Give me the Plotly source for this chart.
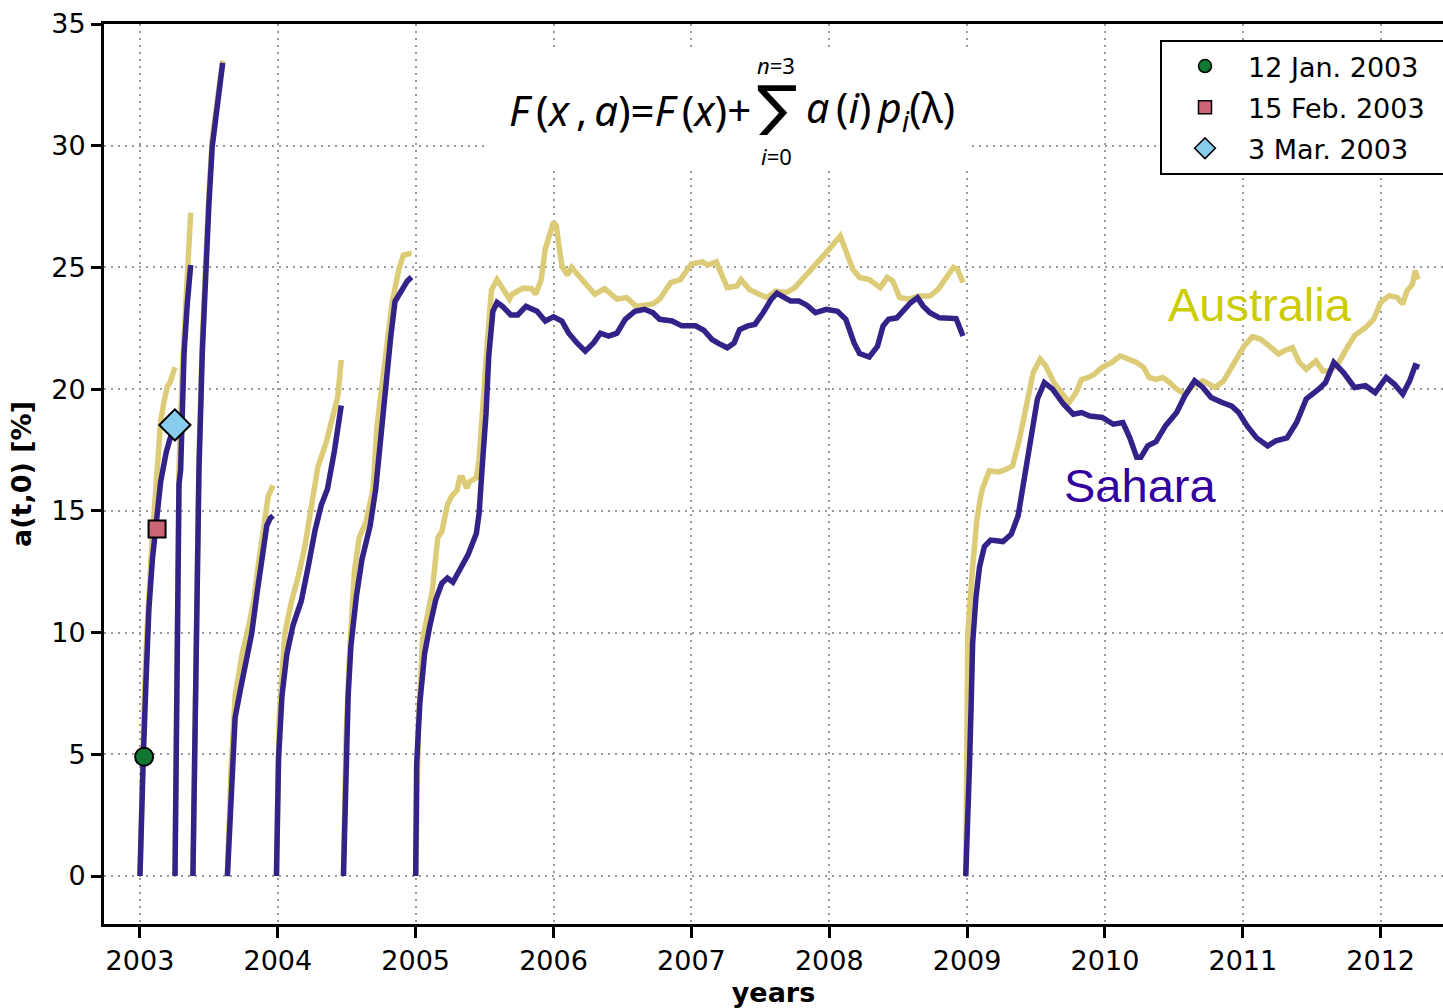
import plotly.graph_objects as go

# ---------------- data ----------------
# Sahara (dark blue) segments: time in years, value in %
SAH1_T = [2003.0, 2003.01, 2003.024, 2003.045, 2003.065, 2003.09, 2003.118, 2003.15, 2003.19, 2003.22, 2003.25]
SAH1_V = [0, 2.4, 4.9, 8.2, 11.0, 13.0, 14.3, 16.2, 17.4, 18.0, 18.6]
SAH2_T = [2003.254, 2003.266, 2003.276, 2003.283, 2003.295, 2003.32, 2003.343, 2003.368]
SAH2_V = [0, 5.2, 10.65, 16.1, 16.7, 21.5, 23.5, 25.1]
SAH3_T = [2003.384, 2003.397, 2003.41, 2003.42, 2003.428, 2003.452, 2003.476, 2003.5, 2003.524, 2003.549, 2003.573, 2003.60]
SAH3_V = [0, 5.2, 10.65, 16.1, 16.7, 21.5, 24.9, 27.6, 29.96, 31.06, 32.15, 33.4]
SAH4_T = [2003.634, 2003.66, 2003.69, 2003.73, 2003.77, 2003.81, 2003.85, 2003.885, 2003.92, 2003.945, 2003.965]
SAH4_V = [0, 3.6, 6.5, 7.7, 8.75, 9.95, 11.65, 13.0, 14.4, 14.7, 14.8]
SAH5_T = [2003.99, 2004.005, 2004.03, 2004.065, 2004.11, 2004.17, 2004.22, 2004.27, 2004.315, 2004.36, 2004.41, 2004.46]
SAH5_V = [0, 4.8, 7.4, 9.1, 10.3, 11.3, 12.7, 14.2, 15.24, 15.9, 17.45, 19.33]
SAH6_T = [2004.476, 2004.49, 2004.51, 2004.53, 2004.57, 2004.61, 2004.67, 2004.71, 2004.745, 2004.78, 2004.82, 2004.85, 2004.90, 2004.94, 2004.97]
SAH6_V = [0, 4.0, 7.4, 9.45, 11.5, 13.0, 14.4, 15.9, 17.97, 20.36, 22.2, 23.6, 24.1, 24.45, 24.6]
SAH7_T = [2005.0, 2005.007, 2005.03, 2005.065, 2005.10, 2005.146, 2005.19, 2005.23, 2005.27, 2005.32, 2005.38,
          2005.44, 2005.46, 2005.48, 2005.51, 2005.53, 2005.56, 2005.59, 2005.63, 2005.69, 2005.74, 2005.80,
          2005.88, 2005.94, 2006.0, 2006.06, 2006.11, 2006.17, 2006.23, 2006.29, 2006.34, 2006.4, 2006.46,
          2006.52, 2006.59, 2006.66, 2006.72, 2006.77, 2006.86, 2006.93, 2007.03, 2007.09, 2007.15, 2007.2,
          2007.26, 2007.31, 2007.35, 2007.41, 2007.46, 2007.52, 2007.58, 2007.62, 2007.66, 2007.72, 2007.78,
          2007.84, 2007.9, 2007.98, 2008.06, 2008.12, 2008.18, 2008.22, 2008.29, 2008.35, 2008.39, 2008.43,
          2008.49, 2008.55, 2008.59, 2008.64, 2008.68, 2008.73, 2008.8, 2008.92, 2008.97]
SAH7_V = [0, 4.6, 7.1, 9.15, 10.2, 11.36, 12.03, 12.24, 12.07, 12.54, 13.2,
          14.07, 14.9, 16.6, 18.98, 21.36, 23.2, 23.56, 23.4, 23.05, 23.05, 23.4,
          23.2, 22.8, 22.97, 22.8, 22.3, 21.9, 21.56, 21.9, 22.3, 22.18, 22.3,
          22.87, 23.2, 23.28, 23.14, 22.87, 22.8, 22.6, 22.6, 22.42, 22.04, 21.87,
          21.7, 21.9, 22.45, 22.6, 22.66, 23.14, 23.7, 23.94, 23.83, 23.62, 23.62,
          23.44, 23.14, 23.28, 23.2, 22.87, 21.9, 21.46, 21.32, 21.76, 22.59, 22.87,
          22.93, 23.28, 23.55, 23.76, 23.42, 23.14, 22.93, 22.9, 22.18]
SAH8_T = [2008.99, 2009.005, 2009.017, 2009.03, 2009.04, 2009.065, 2009.09, 2009.125, 2009.17, 2009.26, 2009.32,
          2009.37, 2009.42, 2009.46, 2009.51, 2009.56, 2009.62, 2009.7, 2009.77, 2009.83, 2009.89, 2009.98,
          2010.06, 2010.13, 2010.18, 2010.23, 2010.26, 2010.31, 2010.37, 2010.44, 2010.52, 2010.58, 2010.65,
          2010.71, 2010.77, 2010.85, 2010.92, 2010.97, 2011.03, 2011.1, 2011.18, 2011.24, 2011.32, 2011.39,
          2011.46, 2011.55, 2011.6, 2011.66, 2011.73, 2011.81, 2011.89, 2011.96, 2012.04, 2012.1, 2012.16,
          2012.21, 2012.25, 2012.28]
SAH8_V = [0, 2.0, 4.5, 7.2, 9.56, 11.5, 12.7, 13.53, 13.8, 13.74, 14.04,
          14.8, 16.44, 18.08, 19.6, 20.27, 20.0, 19.38, 18.97, 19.04, 18.9, 18.84,
          18.56, 18.63, 18.0, 17.2, 17.2, 17.67, 17.84, 18.5, 19.04, 19.73, 20.34,
          20.07, 19.66, 19.45, 19.3, 19.04, 18.5, 18.0, 17.67, 17.88, 18.0, 18.63,
          19.6, 20.0, 20.27, 21.1, 20.68, 20.07, 20.14, 19.86, 20.48, 20.2, 19.8,
          20.34, 20.96, 20.9]

# Australia (sand) segments
AUS1_T = [2003.0, 2003.01, 2003.02, 2003.035, 2003.05, 2003.07, 2003.09, 2003.11, 2003.133, 2003.15, 2003.175, 2003.198, 2003.22, 2003.254]
AUS1_V = [0, 3.0, 5.5, 8.0, 10.0, 12.5, 14.0, 15.5, 17.5, 18.7, 19.5, 20.1, 20.3, 20.9]
AUS2_T = [2003.254, 2003.262, 2003.27, 2003.278, 2003.283, 2003.307, 2003.336, 2003.35, 2003.368]
AUS2_V = [0, 5.0, 10.0, 14.0, 16.7, 20.8, 24.2, 25.85, 27.25]
AUS3_T = [2003.384, 2003.397, 2003.41, 2003.42, 2003.428, 2003.452, 2003.476, 2003.5, 2003.524, 2003.549, 2003.573, 2003.60]
AUS3_V = [0, 5.5, 11.0, 16.5, 17.2, 22.0, 25.4, 28.0, 30.3, 31.4, 32.4, 33.5]
AUS4_T = [2003.634, 2003.66, 2003.69, 2003.74, 2003.79, 2003.825, 2003.86, 2003.90, 2003.93, 2003.965]
AUS4_V = [0, 4.3, 7.4, 9.1, 10.3, 11.3, 12.85, 14.4, 15.6, 16.05]
AUS5_T = [2003.99, 2004.01, 2004.05, 2004.10, 2004.15, 2004.195, 2004.24, 2004.29, 2004.35, 2004.40, 2004.435, 2004.46]
AUS5_V = [0, 6.5, 9.95, 11.3, 12.35, 13.5, 15.07, 16.8, 17.8, 18.8, 19.7, 21.2]
AUS6_T = [2004.476, 2004.495, 2004.52, 2004.555, 2004.59, 2004.64, 2004.69, 2004.72, 2004.76, 2004.795, 2004.83, 2004.88, 2004.91, 2004.95, 2004.97]
AUS6_V = [0, 5.7, 9.1, 12.5, 13.9, 14.56, 15.9, 18.5, 20.36, 21.9, 23.6, 24.97, 25.5, 25.56, 25.56]
AUS7_T = [2005.0, 2005.02, 2005.05, 2005.09, 2005.12, 2005.16, 2005.19, 2005.23, 2005.26, 2005.30, 2005.32,
          2005.34, 2005.37, 2005.39, 2005.44, 2005.46, 2005.48, 2005.52, 2005.55, 2005.59, 2005.63, 2005.68,
          2005.70, 2005.78, 2005.84, 2005.87, 2005.91, 2005.94, 2006.0, 2006.02, 2006.06, 2006.1, 2006.13,
          2006.23, 2006.30, 2006.37, 2006.46, 2006.53, 2006.6, 2006.72, 2006.77, 2006.85, 2006.92, 2007.0,
          2007.08, 2007.12, 2007.18, 2007.26, 2007.33, 2007.36, 2007.42, 2007.49, 2007.55, 2007.61, 2007.69,
          2007.75, 2007.84, 2007.91, 2007.98, 2008.08, 2008.17, 2008.22, 2008.29, 2008.37, 2008.42, 2008.46,
          2008.51, 2008.58, 2008.65, 2008.73, 2008.79, 2008.9, 2008.93, 2008.97]
AUS7_V = [0, 6.3, 9.7, 10.85, 11.7, 13.9, 14.15, 15.25, 15.6, 15.85, 16.36,
          16.36, 15.93, 16.2, 16.36, 17.1, 19.0, 22.0, 24.07, 24.5, 24.15, 23.7,
          23.9, 24.15, 24.13, 23.9, 24.5, 25.76, 26.86, 26.7, 25.07, 24.68, 25.0,
          24.38, 23.9, 24.13, 23.7, 23.76, 23.4, 23.5, 23.7, 24.38, 24.5, 25.14,
          25.23, 25.1, 25.23, 24.17, 24.24, 24.5, 24.1, 23.9, 23.76, 24.03, 23.97,
          24.17, 24.72, 25.14, 25.62, 26.3, 24.93, 24.59, 24.5, 24.17, 24.59, 24.45,
          23.76, 23.7, 23.83, 23.83, 24.1, 25.0, 24.93, 24.38]
AUS8_T = [2008.99, 2009.0, 2009.005, 2009.04, 2009.07, 2009.094, 2009.11, 2009.16, 2009.23, 2009.28, 2009.33,
          2009.38, 2009.43, 2009.48, 2009.53, 2009.57, 2009.63, 2009.70, 2009.74, 2009.79, 2009.83, 2009.88,
          2009.92, 2009.98, 2010.05, 2010.11, 2010.17, 2010.23, 2010.28, 2010.32, 2010.37, 2010.42, 2010.47,
          2010.52, 2010.58, 2010.64, 2010.71, 2010.8, 2010.86, 2010.92, 2010.98, 2011.01, 2011.07, 2011.13,
          2011.19, 2011.26, 2011.3, 2011.36, 2011.41, 2011.46, 2011.53, 2011.58, 2011.63, 2011.69, 2011.75,
          2011.81, 2011.89, 2011.95, 2012.0, 2012.06, 2012.12, 2012.16, 2012.19, 2012.23, 2012.25, 2012.27]
AUS8_V = [0, 5.0, 10.0, 12.7, 14.6, 15.45, 15.9, 16.64, 16.6, 16.7, 16.85,
          17.95, 19.3, 20.7, 21.23, 20.96, 20.27, 19.73, 19.45, 19.86, 20.4, 20.48,
          20.6, 20.9, 21.1, 21.37, 21.26, 21.1, 20.9, 20.48, 20.4, 20.48, 20.27,
          20.0, 19.8, 20.14, 20.34, 20.07, 20.34, 20.9, 21.5, 21.78, 22.16, 22.05,
          21.78, 21.44, 21.58, 21.7, 21.1, 20.82, 21.16, 20.75, 20.75, 21.03, 21.64,
          22.2, 22.53, 22.88, 23.56, 23.84, 23.77, 23.5, 24.04, 24.3, 24.86, 24.5]

# Highlighted dates (marker positions)
MARK_LABELS = ["12 Jan. 2003", "15 Feb. 2003", "3 Mar. 2003"]
MARK_T = [2003.03, 2003.124, 2003.253]
MARK_V = [4.9, 14.26, 18.53]

X_TICKS = list(range(2003, 2013))
Y_TICKS = list(range(0, 36, 5))

# ---------------- styling ----------------
SAHARA_COLOR = "#332288"
AUSTRALIA_COLOR = "#DDCC77"
MARK_COLORS = ["#117733", "#CC6677", "#88CCEE"]
MARK_SYMBOLS = ["circle", "square", "diamond"]
MARK_SIZES = [18, 17, 24]
LEG_SIZES = [13, 13, 16]
FONT = "DejaVu Sans"

W, H = 1443, 1008
ML, MR, MT, MB = 104, 0, 24, 84


def join(segs):
    xs, ys = [], []
    for t, v in segs:
        xs += list(t) + [None]
        ys += list(v) + [None]
    return xs, ys


sx, sy = join([(SAH1_T, SAH1_V), (SAH2_T, SAH2_V), (SAH3_T, SAH3_V), (SAH4_T, SAH4_V),
               (SAH5_T, SAH5_V), (SAH6_T, SAH6_V), (SAH7_T, SAH7_V), (SAH8_T, SAH8_V)])
ax_, ay_ = join([(AUS1_T, AUS1_V), (AUS2_T, AUS2_V), (AUS3_T, AUS3_V), (AUS4_T, AUS4_V),
                 (AUS5_T, AUS5_V), (AUS6_T, AUS6_V), (AUS7_T, AUS7_V), (AUS8_T, AUS8_V)])

fig = go.Figure()
fig.add_trace(go.Scatter(x=ax_, y=ay_, mode="lines", line=dict(color=AUSTRALIA_COLOR, width=5.5),
                         connectgaps=False, showlegend=False, hoverinfo="skip"))
fig.add_trace(go.Scatter(x=sx, y=sy, mode="lines", line=dict(color=SAHARA_COLOR, width=5.5),
                         connectgaps=False, showlegend=False, hoverinfo="skip"))

for i in range(3):
    fig.add_trace(go.Scatter(x=[MARK_T[i]], y=[MARK_V[i]], mode="markers",
                             marker=dict(symbol=MARK_SYMBOLS[i], size=MARK_SIZES[i], color=MARK_COLORS[i],
                                         line=dict(color="black", width=2)),
                             showlegend=False, hoverinfo="skip"))
PAD = "\u00a0" * 2
for i in range(3):
    fig.add_trace(go.Scatter(x=[None], y=[None], mode="markers", name=MARK_LABELS[i] + PAD,
                             legendgroup="g%d" % i,
                             marker=dict(symbol=MARK_SYMBOLS[i], size=LEG_SIZES[i], color=MARK_COLORS[i],
                                         line=dict(color="black", width=1.5))))

pw = W - ML - MR
ph = H - MT - MB


def px(x):
    return (x - ML) / pw


def py(y):
    return (H - MB - y) / ph


# white box behind the formula
fig.add_shape(type="rect", xref="paper", yref="paper", x0=px(487), x1=px(970), y0=py(170), y1=py(50),
              fillcolor="white", line=dict(width=0), layer="above")

FF = "Noto Sans"
TS = "\u2009"
fig.add_annotation(xref="paper", yref="paper", x=px(753), y=py(110), xanchor="right", yanchor="middle",
                   text="<i>F</i>" + TS + "(<i>x</i>" + TS + "," + TS + "<i>a</i>)=<i>F</i>" + TS + "(<i>x</i>)+",
                   showarrow=False, font=dict(family=FF, size=42, color="black"))
fig.add_annotation(xref="paper", yref="paper", x=px(777), y=py(108), xanchor="center", yanchor="middle",
                   text="∑", showarrow=False, height=54,
                   font=dict(family="DejaVu Sans", size=62, color="black"))
fig.add_annotation(xref="paper", yref="paper", x=px(776), y=py(65), xanchor="center", yanchor="middle",
                   text="<i>n</i>=3", showarrow=False, font=dict(family=FF, size=22, color="black"))
fig.add_annotation(xref="paper", yref="paper", x=px(776), y=py(156), xanchor="center", yanchor="middle",
                   text="<i>i</i>=0", showarrow=False, font=dict(family=FF, size=22, color="black"))
fig.add_annotation(xref="paper", yref="paper", x=px(804), y=py(110), xanchor="left", yanchor="middle",
                   text="<i>a</i>" + TS + "(<i>i</i>)" + TS + "<i>p<sub>i</sub></i>(λ)", showarrow=False,
                   font=dict(family=FF, size=41, color="black"))

fig.add_annotation(x=2010.443, y=23.46, xanchor="left", yanchor="middle", text="Australia", showarrow=False,
                   font=dict(family="Liberation Sans", size=47, color="#CCCC00"))
fig.add_annotation(x=2009.689, y=16.06, xanchor="left", yanchor="middle", text="Sahara", showarrow=False,
                   font=dict(family="Liberation Sans", size=47, color="#3300A0"))

fig.update_layout(
    width=W, height=H, margin=dict(l=ML, r=MR, t=MT, b=MB, autoexpand=False),
    paper_bgcolor="white", plot_bgcolor="white",
    font=dict(family=FONT, size=27, color="black"),
    legend=dict(x=px(1160), y=py(40), xanchor="left", yanchor="top", bgcolor="white",
                bordercolor="black", borderwidth=2, font=dict(family=FONT, size=27),
                traceorder="grouped", tracegroupgap=3, itemwidth=76),
    xaxis=dict(range=[2002.739, 2012.452], tickvals=X_TICKS, ticktext=[str(t) for t in X_TICKS],
               showline=True, linecolor="black", linewidth=3, mirror=True,
               ticks="outside", ticklen=11, tickwidth=3, tickcolor="black",
               showgrid=True, gridcolor="#9a9a9a", gridwidth=2, griddash="2px,5px",
               zeroline=False, title=dict(text="<b>years</b>", standoff=10, font=dict(size=27))),
    yaxis=dict(range=[-1.97, 35], tickvals=Y_TICKS, showline=True, linecolor="black", linewidth=3,
               ticks="outside", ticklen=10, tickwidth=3, tickcolor="black",
               showgrid=True, gridcolor="#9a9a9a", gridwidth=2, griddash="2px,5px",
               zeroline=False, title=dict(text="<b>a(t,0) [%]</b>", standoff=12, font=dict(size=27))),
)

fig.write_html("out.html", config={"displayModeBar": False},
               post_script="document.body.style.margin='0';document.body.style.overflow='hidden';")
